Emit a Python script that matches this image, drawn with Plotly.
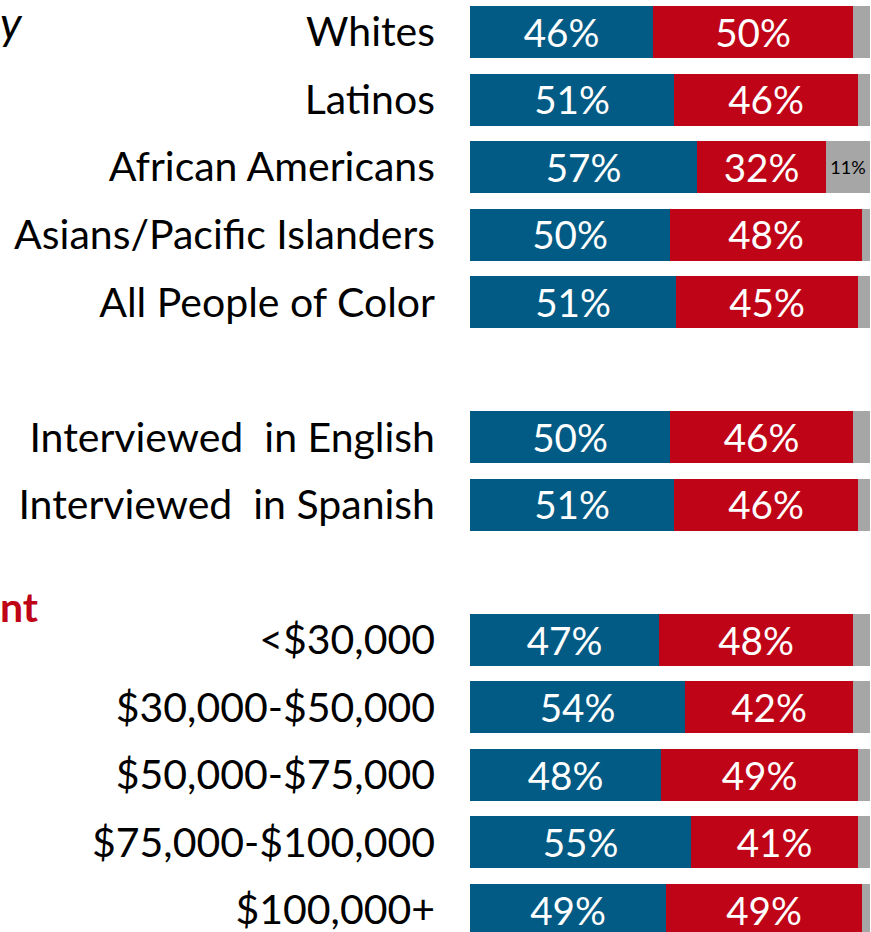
import plotly.graph_objects as go

# rows top to bottom; " " and "  " are empty spacer rows between groups
categories = ["Whites", "Latinos", "African Americans", "Asians/Pacific Islanders",
              "All People of Color", " ",
              "Interviewed  in English", "Interviewed  in Spanish", "  ",
              "<$30,000", "$30,000-$50,000", "$50,000-$75,000",
              "$75,000-$100,000", "$100,000+"]

blue_vals = [45.75, 51, 56.75, 50, 51.5, None, 50, 51, None, 47.25, 53.75, 47.75, 55.25, 49]
red_vals = [50, 46, 32.25, 48, 45.5, None, 45.75, 46, None, 48.5, 42, 49.25, 41.75, 49]
gray_vals = [4.25, 3, 11, 2, 3, None, 4.25, 3, None, 4.25, 4.25, 3, 3, 2]

blue_labels = ["46%", "51%", "57%", "50%", "51%", "", "50%", "51%", "", "47%", "54%", "48%", "55%", "49%"]
red_labels = ["50%", "46%", "32%", "48%", "45%", "", "46%", "46%", "", "48%", "42%", "49%", "41%", "49%"]
gray_labels = ["", "", "11%", "", "", "", "", "", "", "", "", "", "", ""]

BLUE = "#025B85"
RED = "#C00418"
GRAY = "#A6A6A6"
FONT = "Lato"

fig = go.Figure()
for vals, labels, color, tcolor, tsize in [
        (blue_vals, blue_labels, BLUE, "white", 42),
        (red_vals, red_labels, RED, "white", 42),
        (gray_vals, gray_labels, GRAY, "black", 18)]:
    fig.add_trace(go.Bar(
        x=vals, y=categories, orientation="h",
        marker=dict(color=color, line=dict(width=0)),
        text=labels, textposition="inside", insidetextanchor="middle",
        textfont=dict(color=tcolor, size=tsize, family=FONT),
        width=0.77, showlegend=False, hoverinfo="skip",
    ))

fig.update_layout(
    barmode="stack",
    width=871, height=932,
    margin=dict(l=470, r=0, t=0, b=0),
    plot_bgcolor="white", paper_bgcolor="white",
    font=dict(family=FONT, color="black"),
    xaxis=dict(range=[0, 100.25], visible=False, fixedrange=True),
    yaxis=dict(categoryorder="array", categoryarray=categories,
               range=[13.326, -0.474], showgrid=False, zeroline=False,
               ticks="", ticklabelstandoff=34, automargin=False,
               tickfont=dict(size=41, color="black", family=FONT)),
    annotations=[
        dict(text="<i>y</i>", xref="paper", yref="paper", x=-470 / 401, y=1.0,
             xanchor="left", yanchor="top", showarrow=False, yshift=7, xshift=-2,
             font=dict(size=45, color="black", family=FONT)),
        dict(text="<b>nt</b>", xref="paper", yref="paper", x=-470 / 401, y=1 - 606 / 932,
             xanchor="left", yanchor="middle", showarrow=False, xshift=-2,
             font=dict(size=41, color=RED, family=FONT)),
    ],
)

fig.write_html("out.html", config={"displayModeBar": False},
               post_script="document.body.style.margin='0';")
